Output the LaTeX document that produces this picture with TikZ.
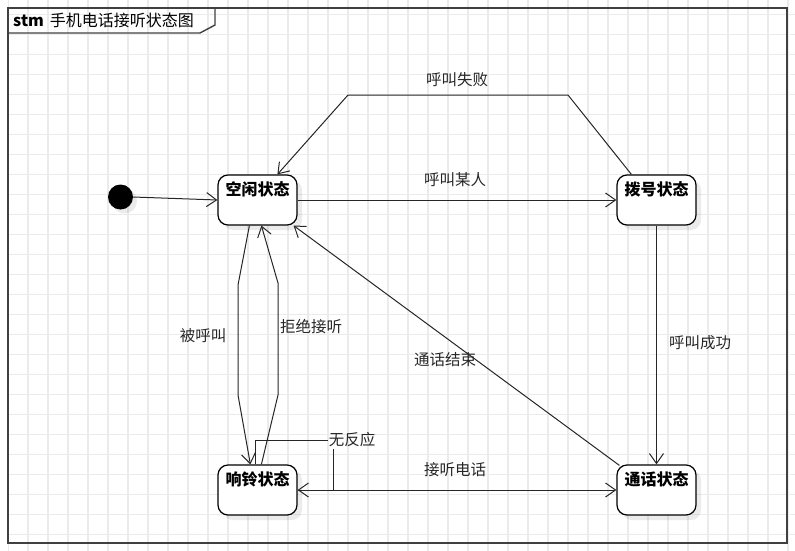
\documentclass[tikz,border=0pt]{standalone}
\usepackage{fontspec}
\setmainfont{Noto Sans CJK SC}
\usetikzlibrary{arrows.meta,shadows}
\begin{document}
\begin{tikzpicture}[x=1pt,y=-1pt,
  gridline/.style={draw=black!8, line width=1.3pt},
  frameline/.style={draw=black!75, line width=1.4pt},
  state/.style={draw=black, line width=1.2pt, fill=white, rounded corners=10pt,
    minimum width=79pt, minimum height=50pt, inner sep=0pt,
    drop shadow={shadow xshift=5pt, shadow yshift=-5pt, fill=black, opacity=0.08}},
  stlabel/.style={anchor=center, yshift=-15pt, font=\fontsize{16}{18}\selectfont\bfseries, inner sep=0pt},
  edge/.style={draw=black!85, line width=1pt},
  arr/.style={edge, -{Straight Barb[length=10pt,width=14pt,line width=1pt]}},
  lbl/.style={font=\fontsize{15.5}{18}\selectfont, inner sep=1pt, text=black!85}]
\useasboundingbox (0,0) rectangle (795,551);
% grid
\begin{scope}
  \clip (8,0) rectangle (795,551);
  \foreach \i in {0,...,39} { \draw[gridline] (8+20*\i,0) -- (8+20*\i,551); }
  \foreach \j in {0,...,27} { \draw[gridline] (8,14.5+20*\j) -- (795,14.5+20*\j); }
\end{scope}
% frame
\draw[frameline] (8,8) rectangle (787,543);
\draw[frameline] (8,33) -- (200,33) -- (215,25) -- (215,8);
\node[anchor=west, font=\fontsize{16}{18}\selectfont, inner sep=0pt] (title) at (13,20) {\textbf{stm}\hspace{6pt}手机电话接听状态图};
% states
\node[circle, fill=black, minimum size=25pt, inner sep=0pt,
  drop shadow={shadow xshift=4pt, shadow yshift=-4pt, fill=black, opacity=0.08}] (init) at (120.5,197) {};
\node[state, label={[stlabel]north:空闲状态}] (idle) at (257.5,200) {};
\node[state, label={[stlabel]north:拨号状态}] (dial) at (656.5,200) {};
\node[state, label={[stlabel]north:响铃状态}] (ring) at (257.5,490) {};
\node[state, label={[stlabel]north:通话状态}] (call) at (656.5,490) {};
% labels
\node[lbl] (l1) at (457,80) {呼叫失败};
\node[lbl] (l2) at (455,180) {呼叫某人};
\node[lbl] (l3) at (700,343) {呼叫成功};
\node[lbl] (l4) at (445,360) {通话结束};
\node[lbl] (l5) at (455,470) {接听电话};
\node[lbl] (l6) at (203,336) {被呼叫};
\node[lbl] (l7) at (311,327) {拒绝接听};
\node[lbl] (l8) at (352,440) {无反应};
% edges
\draw[arr] (init.east) -- (idle.west);
\draw[arr] (idle.east) -- (dial.west);
\draw[arr] ([xshift=15pt]dial.north west) -- (568,95) -- (348,95) -- ([xshift=60pt]idle.north west);
\draw[arr] (dial.south) -- (call.north);
\draw[arr] ([xshift=3pt,yshift=-1pt]call.north west) -- ([xshift=-4pt]idle.south east);
\draw[arr] (ring.east) -- (call.west);
\draw[arr] ([xshift=32pt]idle.south west) -- (238,285) -- (238,395) -- ([xshift=33pt]ring.north west);
\draw[arr] ([xshift=44pt]ring.north west) -- (278,395) -- (278,283) -- ([xshift=44pt]idle.south west);
\draw[edge] ([xshift=38pt]ring.north west) |- (l8.west);
\coordinate (nrb) at (333,449);
\draw[arr] (nrb) |- (ring.east);
\end{tikzpicture}
\end{document}
